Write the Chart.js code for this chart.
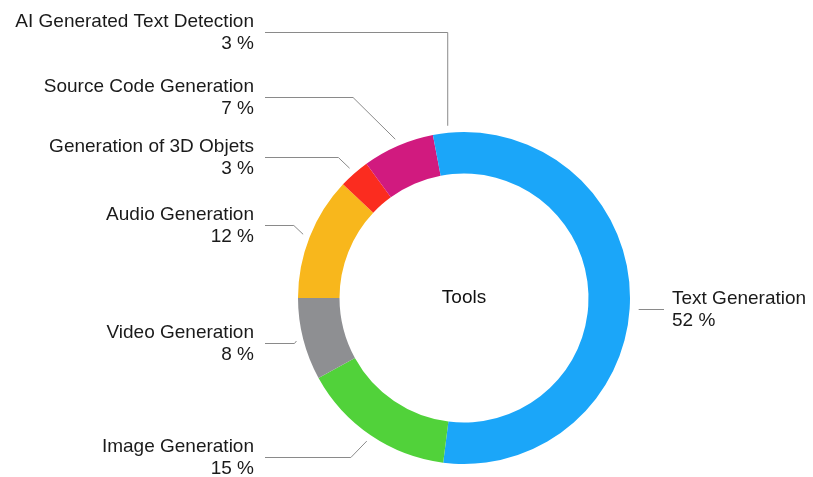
<!DOCTYPE html>
<html>
<head>
<meta charset="utf-8">
<script src="https://cdn.jsdelivr.net/npm/chart.js@4/dist/chart.umd.min.js"></script>
<style>
  html, body { margin: 0; padding: 0; background: #fff; }
  #wrap { width: 813px; height: 477px; position: relative; }
</style>
</head>
<body>
<div id="wrap"><canvas id="myChart" width="813" height="477"></canvas></div>
<script>
// Data
var categories = ['Text Generation', 'Image Generation', 'Video Generation', 'Audio Generation',
                  'Generation of 3D Objets', 'Source Code Generation', 'AI Generated Text Detection'];
var values = [52, 15, 8, 12, 3, 7, 3];
var colors = ['#1ba6f9', '#51d23a', '#8e8f92', '#f8b71c', '#fb2c1f', '#d11a7f', '#1ba6f9'];
var centerTitle = 'Tools';

// callout layout: side and y of each label block (layout only)
var callouts = [
  { side: 'right', y: 309 },
  { side: 'left', y: 457 },
  { side: 'left', y: 343 },
  { side: 'left', y: 225 },
  { side: 'left', y: 157 },
  { side: 'left', y: 97 },
  { side: 'left', y: 32, vertical: true }
];

var FONT = '19px "Liberation Sans", Arial, Helvetica, sans-serif';

var calloutPlugin = {
  id: 'callouts',
  afterDatasetsDraw: function (chart) {
    var ctx = chart.ctx;
    var meta = chart.getDatasetMeta(0);
    var total = values.reduce(function (a, b) { return a + b; }, 0);
    ctx.save();
    ctx.font = FONT;
    ctx.fillStyle = '#1a1a1a';
    ctx.strokeStyle = '#8a8a8a';
    ctx.lineWidth = 1;
    meta.data.forEach(function (arc, i) {
      var c = callouts[i];
      var mid = (arc.startAngle + arc.endAngle) / 2;
      var r = arc.outerRadius + 7;
      var ax = arc.x + Math.cos(mid) * r;
      var ay = arc.y + Math.sin(mid) * r;
      var pct = Math.round(values[i] / total * 100) + ' %';
      ctx.beginPath();
      if (c.side === 'left') {
        var lx = 265;
        var dy = c.y - ay;
        var ex = c.vertical ? ax : ax - Math.abs(dy);
        ctx.moveTo(lx, c.y + 0.5);
        ctx.lineTo(ex, c.y + 0.5);
        ctx.lineTo(ax, ay);
        ctx.stroke();
        ctx.textAlign = 'right';
        ctx.textBaseline = 'middle';
        ctx.fillText(categories[i], 254, c.y - 10);
        ctx.fillText(pct, 254, c.y + 12);
      } else {
        ctx.moveTo(ax + 2, c.y + 0.5);
        ctx.lineTo(664, c.y + 0.5);
        ctx.stroke();
        ctx.textAlign = 'left';
        ctx.textBaseline = 'middle';
        ctx.fillText(categories[i], 672, c.y - 10);
        ctx.fillText(pct, 672, c.y + 12);
      }
    });
    // center title
    var a0 = meta.data[0];
    ctx.textAlign = 'center';
    ctx.textBaseline = 'middle';
    ctx.fillStyle = '#111';
    ctx.fillText(centerTitle, a0.x, a0.y);
    ctx.restore();
  }
};

var ctx = document.getElementById('myChart').getContext('2d');
var chart = new Chart(ctx, {
  type: 'doughnut',
  data: {
    labels: categories,
    datasets: [{
      data: values,
      backgroundColor: colors,
      borderWidth: 0
    }]
  },
  options: {
    responsive: false,
    animation: false,
    cutout: '75%',
    rotation: 0,
    layout: { padding: { left: 298, right: 183, top: 132, bottom: 13 } },
    plugins: {
      legend: { display: false },
      tooltip: { enabled: false }
    }
  },
  plugins: [calloutPlugin]
});
</script>
</body>
</html>
